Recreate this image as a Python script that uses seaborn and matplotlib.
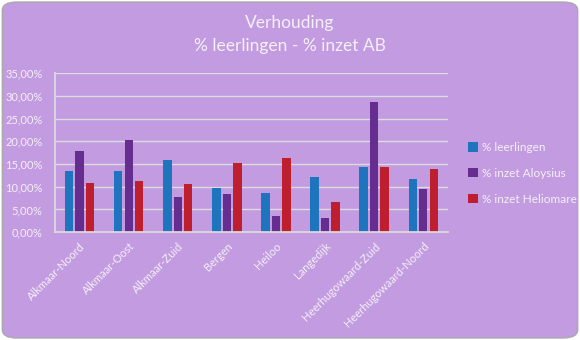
import matplotlib
matplotlib.use("Agg")
import matplotlib.pyplot as plt
from matplotlib.patches import FancyBboxPatch
from matplotlib.ticker import FuncFormatter, MultipleLocator
import seaborn as sns
import pandas as pd

locaties = ["Alkmaar-Noord", "Alkmaar-Oost", "Alkmaar-Zuid", "Bergen", "Heiloo",
            "Langedijk", "Heerhugowaard-Zuid", "Heerhugowaard-Noord"]
leerlingen = [13.5, 13.5, 15.9, 9.8, 8.7, 12.2, 14.4, 11.7]
inzet_aloysius = [17.9, 20.3, 7.8, 8.4, 3.6, 3.2, 28.7, 9.5]
inzet_heliomare = [10.9, 11.3, 10.6, 15.3, 16.4, 6.7, 14.4, 13.9]
reeksen = ["% leerlingen", "% inzet Aloysius", "% inzet Heliomare"]
kleuren = ["#1f75bd", "#662d91", "#be1e2d"]

df = pd.DataFrame({
    "locatie": locaties * 3,
    "reeks": [reeksen[0]] * 8 + [reeksen[1]] * 8 + [reeksen[2]] * 8,
    "waarde": leerlingen + inzet_aloysius + inzet_heliomare,
})

sns.set_theme(style="white")
plt.rcParams["font.family"] = ["Lato", "DejaVu Sans"]

bg = "#c39be0"
txt = "#f4f0f8"
fig = plt.figure(figsize=(5.8, 3.4), dpi=100)
fig.patch.set_facecolor("white")
fig.patches.append(FancyBboxPatch((0.004, 0.006), 0.992, 0.988,
                                  boxstyle="round,pad=0,rounding_size=0.025",
                                  transform=fig.transFigure, facecolor=bg,
                                  edgecolor="#a9a9a9", linewidth=1.0, zorder=-10))

ax = fig.add_axes([0.095, 0.317, 0.677, 0.468])
ax.set_facecolor("none")
sns.barplot(data=df, x="locatie", y="waarde", hue="reeks", palette=kleuren,
            width=0.64, gap=0.2, saturation=1, linewidth=0, ax=ax, legend=True)

ax.set_ylim(0, 35)
ax.yaxis.set_major_locator(MultipleLocator(5))
ax.yaxis.set_major_formatter(FuncFormatter(lambda v, p: f"{v:.2f}%".replace(".", ",")))
ax.grid(axis="y", color="#dcdcdc", linewidth=1.0)
ax.set_axisbelow(True)
for s in ["top", "right"]:
    ax.spines[s].set_visible(False)
ax.spines["left"].set_color("#dcdcdc")
ax.spines["bottom"].set_color("#dcdcdc")
ax.set_xlabel("")
ax.set_ylabel("")
ax.tick_params(axis="both", length=0, colors=txt, labelsize=8)
ax.tick_params(axis="y", pad=9)
plt.setp(ax.get_xticklabels(), rotation=45, ha="right", rotation_mode="anchor")
ax.tick_params(axis="x", pad=6)

leg = ax.legend(loc="center left", bbox_to_anchor=(1.025, 0.37), frameon=False,
                fontsize=8.5, handlelength=0.8, handleheight=0.8, handletextpad=0.4,
                labelspacing=1.25)
for t in leg.get_texts():
    t.set_color(txt)
for h in leg.legend_handles:
    h.set_linewidth(0)

fig.text(0.5, 0.932, "Verhouding", ha="center", va="center", color=txt, fontsize=12.5)
fig.text(0.5, 0.866, "% leerlingen - % inzet AB", ha="center", va="center", color=txt, fontsize=12.5)

fig.savefig("out.png", dpi=100, facecolor=fig.get_facecolor())
